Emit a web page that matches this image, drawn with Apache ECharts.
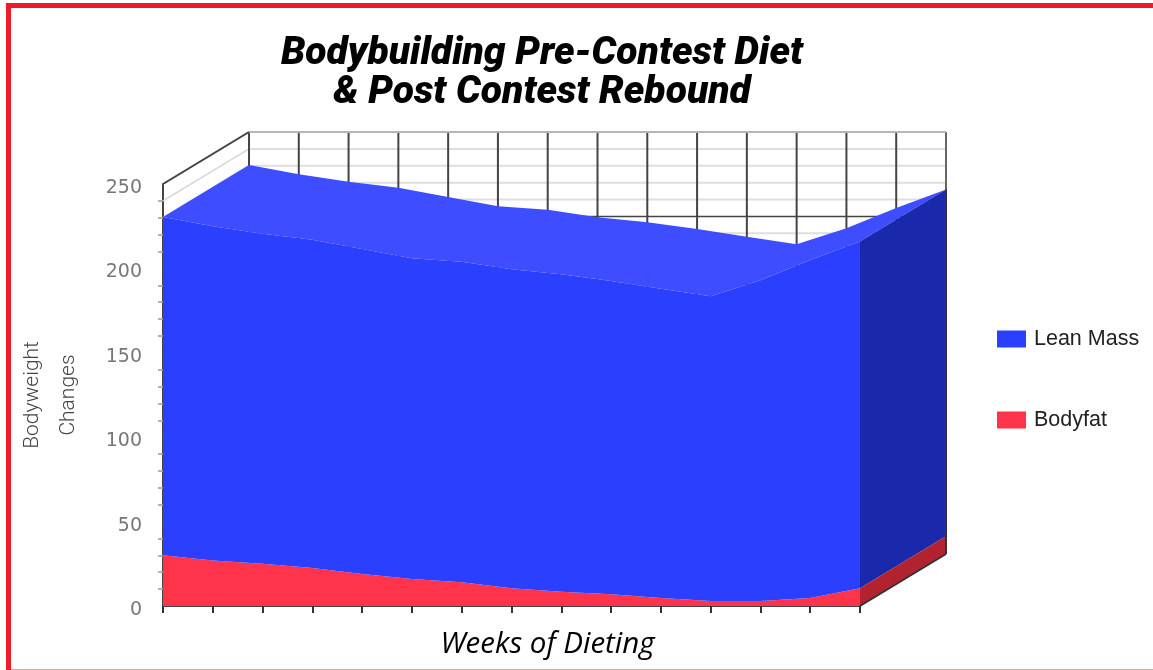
<!DOCTYPE html>
<html>
<head>
<meta charset="utf-8">
<title>Bodybuilding Pre-Contest Diet</title>
<script src="https://cdn.jsdelivr.net/npm/echarts@6/dist/echarts.min.js"></script>
<style>
  html, body { margin: 0; padding: 0; background: #fff; }
  #chart { width: 1153px; height: 670px; }
</style>
</head>
<body>
<div id="chart"></div>
<script>
const weeks = ['1', '2', '3', '4', '5', '6', '7', '8', '9', '10', '11', '12', '13', '14', '15']
const bodyfat = [30, 27, 25, 22.5, 19, 16, 14, 10.5, 8.5, 7, 4.7, 3, 3, 4.7, 10.5]
const leanMass = [200.5, 198, 195.5, 194.5, 192.5, 190, 190, 189, 188, 185.5, 183.3, 180.5, 190, 200.3, 205.5]

// fake 3d depth of the chart box, in pixels
const DX = 86
const DY = -52

const chart = echarts.init(document.getElementById('chart'))
const last = weeks.length - 1
const total = (i) => bodyfat[i] + leanMass[i]

function poly(points, fill) {
  return { type: 'polygon', shape: { points }, style: { fill }, silent: true }
}

function seg(a, b, stroke, lineWidth) {
  return {
    type: 'line',
    shape: { x1: a[0], y1: a[1], x2: b[0], y2: b[1] },
    style: { stroke, lineWidth },
    silent: true,
  }
}

function back(p) {
  return [p[0] + DX, p[1] + DY]
}

function renderWalls(params, api) {
  const children = []
  const bl = api.coord([0, 0])
  const tl = api.coord([0, 250])
  // left wall + back wall horizontal lines
  for (let v = 10; v <= 250; v += 10) {
    const a = api.coord([0, v])
    const b = api.coord([last, v])
    const major = v % 50 === 0 && v < 250
    children.push(seg(a, back(a), '#d6d6d6', 1.5))
    children.push(seg(back(a), back(b), major ? '#444' : '#dedede', major ? 1.5 : 2))
  }
  weeks.forEach((w, i) => {
    const a = api.coord([i, 0])
    const b = api.coord([i, 250])
    children.push(seg(back(a), back(b), i === last ? '#666' : '#444', 2))
  })
  children.push(seg(back(tl), back(api.coord([last, 250])), '#b5b5b5', 2))
  children.push(seg(tl, back(tl), '#444', 2))
  children.push(seg(bl, back(bl), '#444', 2))
  return { type: 'group', children }
}

function renderTop(params, api) {
  const front = weeks.map((w, i) => api.coord([i, total(i)]))
  const pts = front.concat(front.slice().reverse().map(back))
  return { type: 'group', children: [poly(pts, '#3d4dff')] }
}

function renderSide(params, api) {
  const b = api.coord([last, 0])
  const f = api.coord([last, bodyfat[last]])
  const t = api.coord([last, total(last)])
  return {
    type: 'group',
    children: [
      poly([f, t, back(t), back(f)], '#1a29ab'),
      poly([b, f, back(f), back(b)], '#b2232f'),
      seg(b, back(b), '#333', 2),
      seg(back(b), back(t), '#333', 2),
    ],
  }
}

const option = {
  animation: false,
  backgroundColor: '#fff',
  title: {
    text: 'Bodybuilding Pre-Contest Diet\n& Post Contest Rebound',
    left: 537,
    top: 30,
    textAlign: 'center',
    textStyle: {
      fontFamily: 'Roboto',
      fontWeight: 900,
      fontStyle: 'italic',
      fontSize: 39,
      lineHeight: 39,
      color: '#000',
    },
  },
  legend: {
    data: ['Lean Mass', 'Bodyfat'],
    orient: 'vertical',
    left: 992,
    top: 323,
    icon: 'rect',
    itemWidth: 29,
    itemHeight: 17,
    itemGap: 59,
    selectedMode: false,
    textStyle: { fontFamily: 'Liberation Sans', fontSize: 21.5, color: '#222', padding: [0, 0, 0, 3] },
  },
  grid: { left: 163, right: 293, top: 184, bottom: 64, outerBoundsMode: 'none' },
  xAxis: {
    type: 'category',
    data: weeks,
    boundaryGap: false,
    name: 'Weeks of Dieting',
    nameLocation: 'middle',
    nameGap: 24,
    nameTextStyle: {
      fontFamily: 'Open Sans',
      fontStyle: 'italic',
      fontSize: 29.5,
      color: '#000',
      padding: [0, 0, 0, 72],
    },
    axisLine: { lineStyle: { color: '#444', width: 2 } },
    axisTick: { length: 7, lineStyle: { color: '#333', width: 2 } },
    axisLabel: { show: false },
    splitLine: { show: false },
  },
  yAxis: {
    type: 'value',
    min: 0,
    max: 250,
    interval: 50,
    name: 'Bodyweight\nChanges',
    nameLocation: 'middle',
    nameGap: 76,
    nameRotate: 90,
    nameTextStyle: {
      fontFamily: 'Roboto',
      fontWeight: 300,
      fontSize: 21,
      lineHeight: 36,
      color: '#444',
    },
    axisLine: { show: true, lineStyle: { color: '#444', width: 2 } },
    axisTick: { length: 11, lineStyle: { color: '#8a8a8a', width: 2 } },
    minorTick: { show: true, splitNumber: 5, length: 5, lineStyle: { color: '#9a9a9a', width: 1.5 } },
    axisLabel: { fontFamily: 'DejaVu Sans', fontSize: 19, color: '#777', margin: 21, verticalAlign: 'top', lineHeight: 8 },
    splitLine: { show: false },
    minorSplitLine: { show: false },
  },
  series: [
    { type: 'custom', renderItem: renderWalls, data: [0], z: 1, tooltip: { show: false } },
    { type: 'custom', renderItem: renderTop, data: [0], z: 2, tooltip: { show: false } },
    {
      name: 'Bodyfat',
      type: 'line',
      stack: 'weight',
      data: bodyfat,
      showSymbol: false,
      lineStyle: { width: 0 },
      itemStyle: { color: '#ff344b' },
      areaStyle: { color: '#ff344b', opacity: 1 },
      z: 3,
    },
    {
      name: 'Lean Mass',
      type: 'line',
      stack: 'weight',
      data: leanMass,
      showSymbol: false,
      lineStyle: { width: 0 },
      itemStyle: { color: '#2a3fff' },
      areaStyle: { color: '#2a3fff', opacity: 1 },
      z: 3,
    },
    { type: 'custom', renderItem: renderSide, data: [0], z: 4, tooltip: { show: false } },
  ],
  graphic: [
    { type: 'rect', shape: { x: 6, y: 3, width: 5, height: 667 }, style: { fill: '#ee1c2b' } },
    { type: 'rect', shape: { x: 6, y: 3, width: 1147, height: 5 }, style: { fill: '#ee1c2b' } },
    { type: 'rect', shape: { x: 11, y: 669, width: 1142, height: 1 }, style: { fill: '#f39aa2' } },
  ],
}

chart.setOption(option)

window.addEventListener('resize', () => chart.resize())
</script>
</body>
</html>
